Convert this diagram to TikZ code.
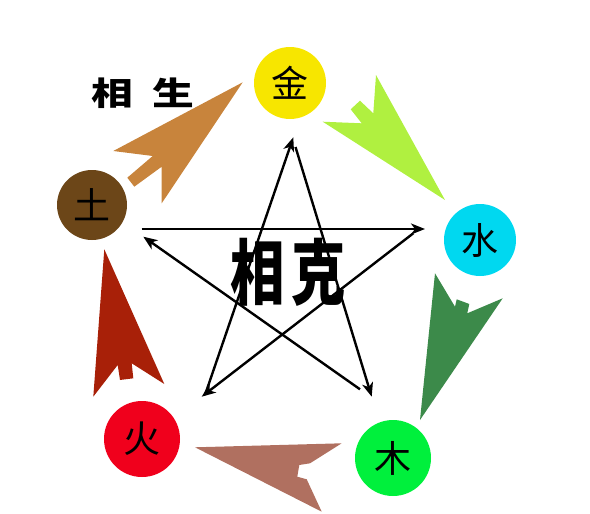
\documentclass[tikz,border=0pt]{standalone}
\usepackage{fontspec}
\newfontfamily\cjk{Noto Sans CJK SC}
\usetikzlibrary{arrows.meta}
\definecolor{cjin}{RGB}{247,230,0}
\definecolor{cshui}{RGB}{0,216,240}
\definecolor{cmu}{RGB}{0,240,60}
\definecolor{chuo}{RGB}{240,0,28}
\definecolor{ctu}{RGB}{108,70,24}
\definecolor{aorange}{RGB}{200,132,60}
\definecolor{alime}{RGB}{176,240,64}
\definecolor{agreen}{RGB}{60,138,74}
\definecolor{apink}{RGB}{176,112,96}
\definecolor{ared}{RGB}{168,32,8}
\tikzset{
  elem/.style={circle, draw=none, inner sep=0pt, font=\cjk\fontsize{37}{37}\selectfont},
  kearrow/.style={line width=2.4pt, -{Stealth[length=14pt,width=11pt,inset=4pt]}},
}
\begin{document}
\begin{tikzpicture}[x=1pt,y=-1pt]
\useasboundingbox (0,0) rectangle (590,514);
% element circles
\node[elem, fill=cjin, minimum size=72pt] (jin) at (290,83) {金};
\node[elem, fill=cshui, minimum size=72pt] (shui) at (480,240) {水};
\node[elem, fill=cmu, minimum size=76pt] (mu) at (393,458) {木};
\node[elem, fill=chuo, minimum size=76pt] (huo) at (142,439) {火};
\node[elem, fill=ctu, minimum size=70pt] (tu) at (92,205) {土};
% sheng arrows
\fill[aorange] (242.7,82.3) -- (113.3,151) -- (152.7,156) -- (127.3,177.7) -- (134.3,186.7) -- (161.7,166.7) -- (161.7,203.3) -- cycle;
\fill[alime] (445,200) -- (376,75) -- (373.3,113.3) -- (360,100.7) -- (350.7,109.3) -- (361.7,123.3) -- (322.7,121.7) -- cycle;
\fill[agreen] (420,420) -- (435,273.3) -- (455,306.7) -- (456.7,299.3) -- (469.3,304) -- (467.3,313.3) -- (502.7,298.3) -- cycle;
\fill[apink] (195,447.3) -- (341.7,443.3) -- (310,463.3) -- (299.3,465) -- (297.3,476.7) -- (306.7,479.3) -- (321.7,511.7) -- cycle;
\fill[ared] (104.3,249.3) -- (164.3,384) -- (131.7,363.3) -- (133.3,378.3) -- (120,380) -- (117.7,365) -- (93.3,396.7) -- cycle;
% ke star
\coordinate (a1) at (141.7,229);
\coordinate (a2) at (425,229);
\coordinate (b1) at (413.3,233.3);
\coordinate (b2) at (201.7,396.7);
\coordinate (c1) at (205,395);
\coordinate (c2) at (293.3,137.3);
\coordinate (d1) at (295.5,147);
\coordinate (d2) at (371.7,396.7);
\coordinate (e1) at (360,389.3);
\coordinate (e2) at (143.3,236.7);
\draw[kearrow] (a1) -- (a2);
\draw[kearrow] (b1) -- (b2);
\draw[kearrow] (c1) -- (c2);
\draw[kearrow] (d1) -- (d2);
\draw[kearrow] (e1) -- (e2);
% labels
\node[font=\cjk\bfseries\fontsize{38}{38}\selectfont, inner sep=0pt, xscale=1.1, yscale=0.85] (sheng) at (143,93) {相\hspace{18pt}生};
\node[font=\cjk\bfseries\fontsize{64}{64}\selectfont, inner sep=0pt, xscale=0.85, yscale=1.12] (ke) at (288,272) {相\hspace{8pt}克};
\end{tikzpicture}
\end{document}
